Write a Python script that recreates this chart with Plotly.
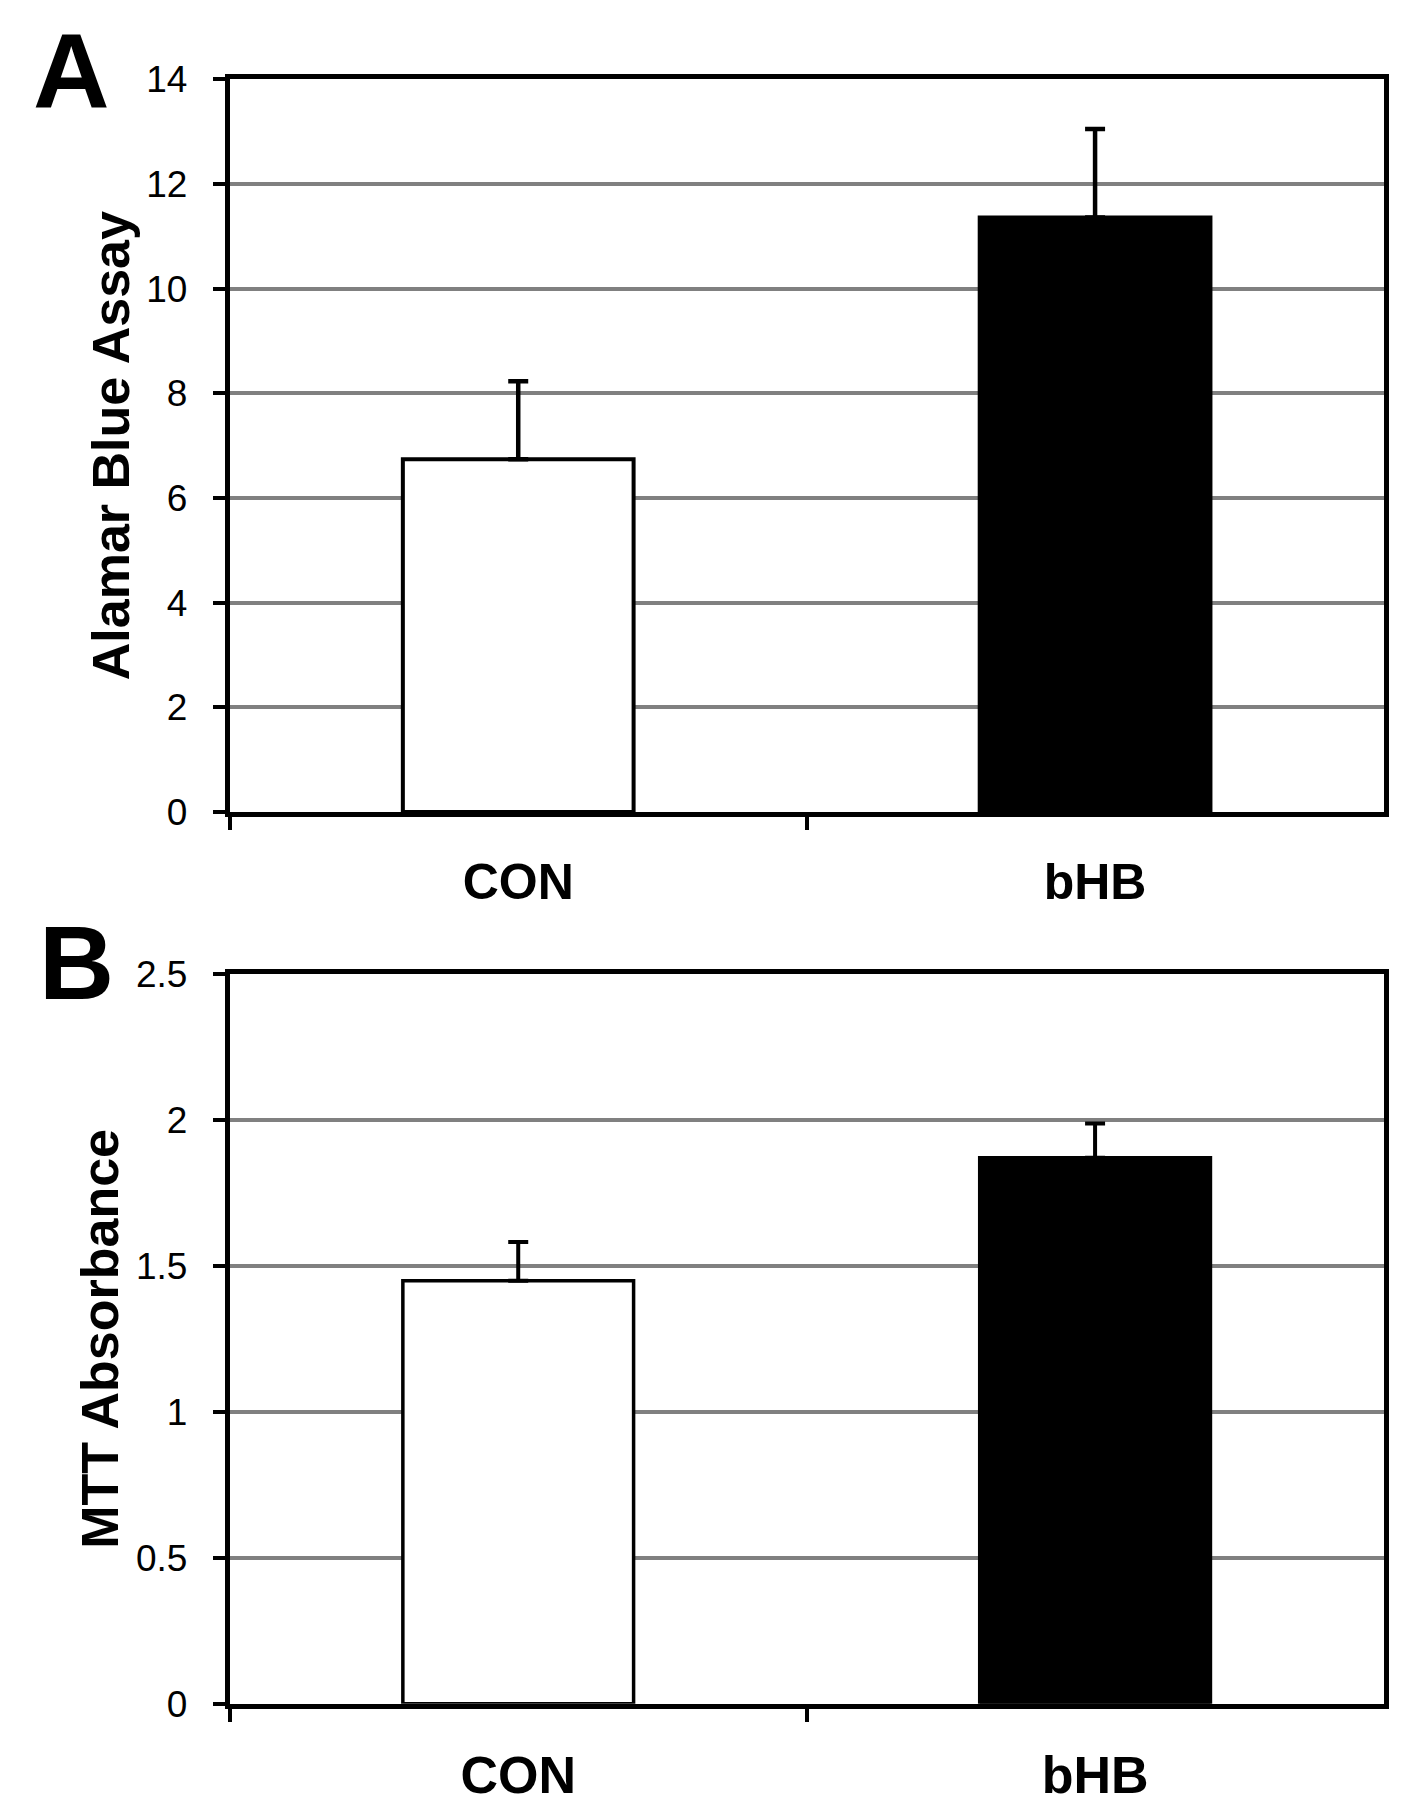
import plotly.graph_objects as go

categories = ["CON", "bHB"]
alamar_values = [6.74, 11.36]
alamar_errors = [1.49, 1.69]
mtt_values = [1.449, 1.871]
mtt_errors = [0.133, 0.117]
alamar_ticks = [0, 2, 4, 6, 8, 10, 12, 14]
mtt_ticks = [0, 0.5, 1, 1.5, 2, 2.5]
mtt_ticklabels = ["0", "0.5", "1", "1.5", "2", "2.5"]
bar_colors = ["white", "black"]

FONT = "Liberation Sans, Arial, sans-serif"
NARROW = "Liberation Sans Narrow, Arial Narrow, Liberation Sans, sans-serif"

fig = go.Figure()

fig.add_trace(go.Bar(
    x=categories, y=alamar_values, width=0.4,
    marker=dict(color=bar_colors, line=dict(color="black", width=4)),
    error_y=dict(type="data", symmetric=False, array=alamar_errors,
                 arrayminus=[0, 0], color="black", thickness=4.5, width=10),
    xaxis="x", yaxis="y", showlegend=False,
))
fig.add_trace(go.Bar(
    x=categories, y=mtt_values, width=0.4,
    marker=dict(color=bar_colors, line=dict(color="black", width=3.5)),
    error_y=dict(type="data", symmetric=False, array=mtt_errors,
                 arrayminus=[0, 0], color="black", thickness=4, width=10),
    xaxis="x2", yaxis="y2", showlegend=False,
))

xdom = [0.1582, 0.9811]
common_x = dict(type="category", tickson="boundaries", ticks="outside",
                ticklen=13, tickwidth=4, tickcolor="black", showline=True,
                linewidth=5, linecolor="black", mirror=True, showgrid=False,
                zeroline=False, ticklabelstandoff=22, automargin=False)
common_y = dict(ticks="outside", ticklen=12, tickwidth=4, tickcolor="black",
                showline=True, linewidth=5, linecolor="black", mirror=True,
                showgrid=True, gridcolor="#808080", gridwidth=4, zeroline=False,
                ticklabelstandoff=18, automargin=False)

fig.update_layout(
    width=1402, height=1806,
    margin=dict(l=0, r=0, t=0, b=0, autoexpand=False),
    paper_bgcolor="white", plot_bgcolor="white",
    bargap=0.6,
    xaxis=dict(domain=xdom, anchor="y",
               tickfont=dict(family=FONT, size=50, color="black", weight="bold"),
               **common_x),
    yaxis=dict(domain=[0.5548, 0.9605], anchor="x", range=[0, 14],
               tickvals=alamar_ticks,
               tickfont=dict(family=FONT, size=37, color="black"),
               title=dict(text="<b>Alamar Blue Assay</b>", standoff=2,
                          font=dict(family=FONT, size=52, color="black")),
               **common_y),
    xaxis2=dict(domain=xdom, anchor="y2",
                tickfont=dict(family=NARROW, size=52, color="black", weight="bold"),
                **common_x),
    yaxis2=dict(domain=[0.0611, 0.4650], anchor="x2", range=[0, 2.5],
                tickvals=mtt_ticks, ticktext=mtt_ticklabels,
                tickfont=dict(family=NARROW, size=37, color="black"),
                title=dict(text="<b>MTT Absorbance</b>", standoff=2,
                           font=dict(family=FONT, size=52, color="black")),
                **common_y),
    annotations=[
        dict(text="<b>A</b>", x=0.045, y=0.965, xref="paper", yref="paper",
             showarrow=False, xanchor="center", yanchor="middle",
             font=dict(family=FONT, size=106, color="black")),
        dict(text="<b>B</b>", x=0.049, y=0.471, xref="paper", yref="paper",
             showarrow=False, xanchor="center", yanchor="middle",
             font=dict(family=FONT, size=104, color="black")),
    ],
)

fig.write_html("out.html")
